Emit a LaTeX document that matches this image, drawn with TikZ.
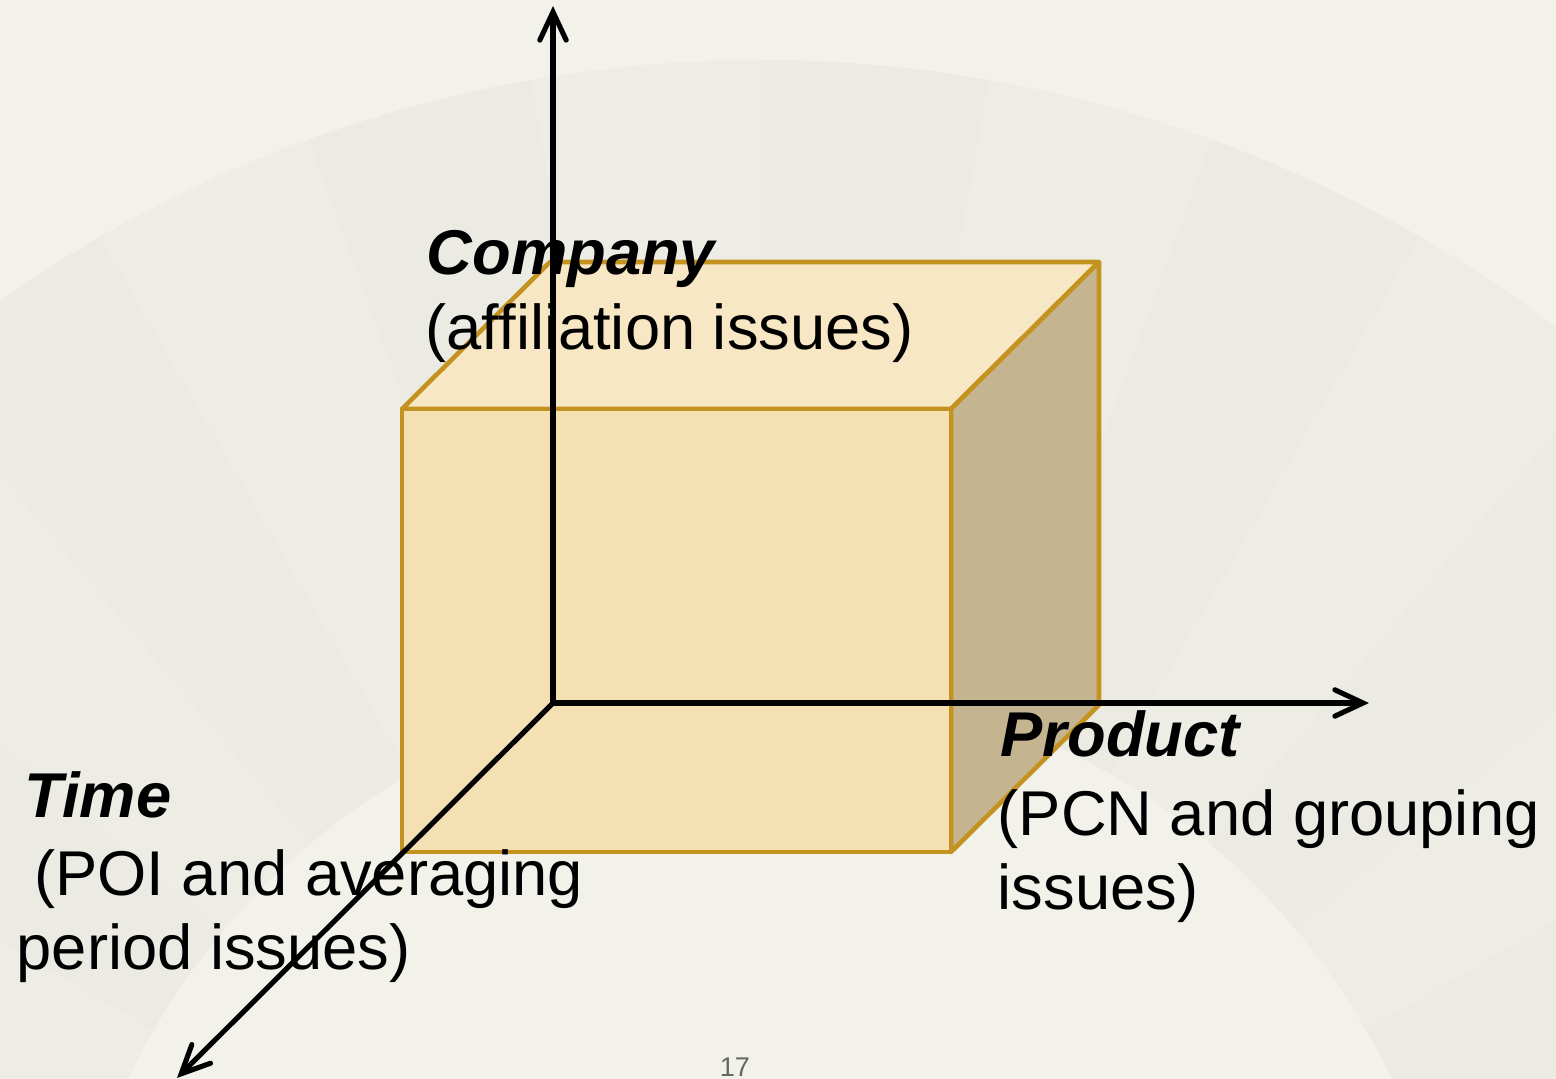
\documentclass[tikz,border=0pt]{standalone}
\usepackage{fontspec}
\setmainfont{Liberation Sans}
\usetikzlibrary{arrows.meta}

\definecolor{paper}{HTML}{F3F2EA}
\definecolor{fanA}{HTML}{EEEDE5}
\definecolor{fanB}{HTML}{ECEBE3}
\definecolor{boxfront}{HTML}{F5E0B4}
\definecolor{boxtop}{HTML}{F7E7C4}
\definecolor{boxside}{HTML}{C4B590}
\definecolor{boxedge}{HTML}{C4921F}

\begin{document}
\begin{tikzpicture}[x=0.01cm,y=-0.01cm,
  axis/.style={line width=1.45pt,line cap=round,-{Straight Barb[length=8pt,width=7.5pt,line cap=round]}},
  boxface/.style={draw=boxedge,line width=1.3pt,line join=round},
  heading/.style={font=\fontsize{18}{21.3}\selectfont\bfseries\itshape,inner sep=0pt,anchor=base west},
  remark/.style={font=\fontsize{18}{21.3}\selectfont,inner sep=0pt,align=left,anchor=base west}]

\fill[paper] (0,0) rectangle (1556,1079);
\useasboundingbox (0,0) rectangle (1556,1079);

% pale fan behind everything
\begin{scope}
\clip (0,0) rectangle (1556,1079);
\begin{scope}[shift={(760,1380)}]
\foreach \i in {0,...,15}{
  \pgfmathtruncatemacro\a{190+10*\i}
  \ifodd\i \def\c{fanA}\else\def\c{fanB}\fi
  \fill[\c] (\a:700) -- (\a:1320) arc[start angle=\a,delta angle=10,radius=1320]
    -- ({\a+10}:700) arc[start angle=\a+10,delta angle=-10,radius=700] -- cycle;
}
\end{scope}
\end{scope}

% the box
\coordinate (fbl) at (402,852);
\coordinate (ftl) at (402,409);
\coordinate (ftr) at (951,409);
\coordinate (fbr) at (951,852);
\coordinate (btl) at (550,262);
\coordinate (btr) at (1099,262);
\coordinate (bbr) at (1099,705);

\draw[boxface,fill=boxtop] (ftl) -- (btl) -- (btr) -- (ftr) -- cycle;
\draw[boxface,fill=boxside] (ftr) -- (btr) -- (bbr) -- (fbr) -- cycle;
\draw[boxface,fill=boxfront] (fbl) rectangle (ftr);

% axes
\coordinate (O) at (553,703);
\coordinate (up) at (553,6);
\coordinate (right) at (1369,703);
\coordinate (down) at (177,1078);

\draw[axis] (O) -- (up);
\draw[axis] (O) -- (right);
\draw[axis] (O) -- (down);

% axis labels (base of a two-line note is its last line)
\node[heading] (company) at (426,275) {Company};
\node[remark] (companynote) at (425,350) {(affiliation issues)};

\node[heading] (product) at (1000,757) {Product};
\node[remark] (productnote) at (997,910) {(PCN and grouping\\issues)};

\node[heading] (time) at (24,818) {Time};
\node[remark] (timenote) at (16,970) {\ (POI and averaging\\period issues)};

\node[font=\fontsize{7.7}{9}\selectfont,text=black!60,inner sep=0pt,anchor=base] (pageno) at (735,1077) {17};

\end{tikzpicture}
\end{document}
